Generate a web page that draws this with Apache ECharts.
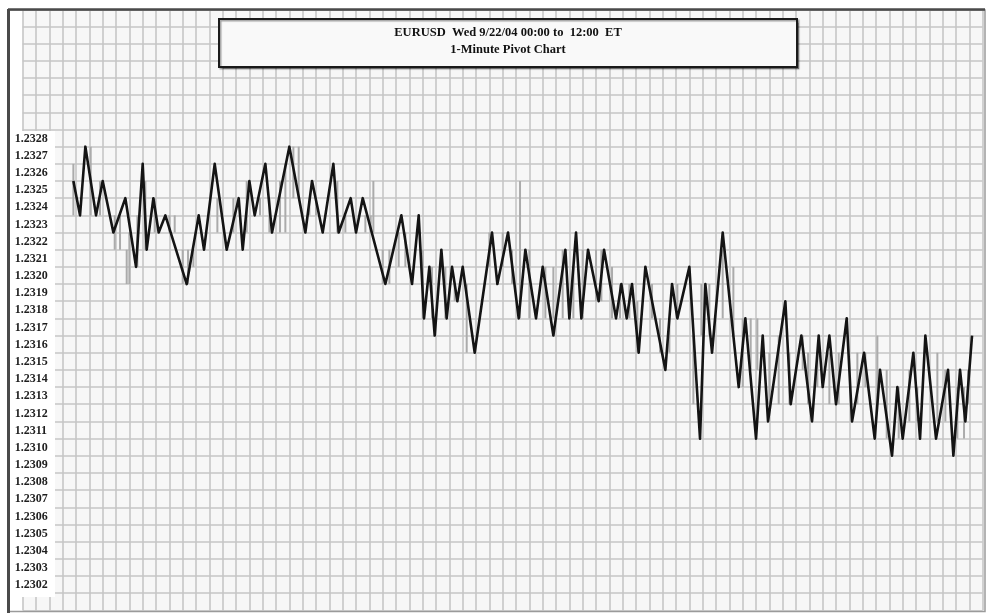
<!DOCTYPE html>
<html>
<head>
<meta charset="utf-8">
<script src="https://cdn.jsdelivr.net/npm/echarts@6/dist/echarts.min.js"></script>
<style>
html,body{margin:0;padding:0;background:#ffffff;}
#chart{width:993px;height:615px;}
</style>
</head>
<body>
<div id="chart"></div>
<script>
// ---- DATA ----
const titleLines = ['EURUSD  Wed 9/22/04 00:00 to  12:00  ET', '1-Minute Pivot Chart'];
const yLabels = ['1.2328','1.2327','1.2326','1.2325','1.2324','1.2323','1.2322','1.2321','1.2320','1.2319','1.2318','1.2317','1.2316','1.2315','1.2314','1.2313','1.2312','1.2311','1.2310','1.2309','1.2308','1.2307','1.2306','1.2305','1.2304','1.2303','1.2302'];

// pivot zigzag: minute of session, price
const pivotMinutes = [38,43,47,55,60,68,77,85,90,93,98,102,107,123,132,136,144,153,162,165,170,174,182,187,200,212,217,225,233,237,246,250,255,272,284,292,297,301,305,309,314,318,322,326,330,339,352,356,364,372,377,385,390,398,407,410,415,419,424,432,436,445,449,453,457,462,467,482,487,491,500,508,512,517,525,537,542,550,555,559,572,576,584,592,597,600,605,610,618,622,631,639,643,652,656,660,668,673,677,685,694,698,703,707,712];
const pivotPrices = [1.2326,1.2324,1.2328,1.2324,1.2326,1.2323,1.2325,1.2321,1.2327,1.2322,1.2325,1.2323,1.2324,1.2320,1.2324,1.2322,1.2327,1.2322,1.2325,1.2322,1.2326,1.2324,1.2327,1.2323,1.2328,1.2323,1.2326,1.2323,1.2327,1.2323,1.2325,1.2323,1.2325,1.2320,1.2324,1.2320,1.2324,1.2318,1.2321,1.2317,1.2322,1.2318,1.2321,1.2319,1.2321,1.2316,1.2323,1.2320,1.2323,1.2318,1.2322,1.2318,1.2321,1.2317,1.2322,1.2318,1.2323,1.2318,1.2322,1.2319,1.2322,1.2318,1.2320,1.2318,1.2320,1.2316,1.2321,1.2315,1.2320,1.2318,1.2321,1.2311,1.2320,1.2316,1.2323,1.2314,1.2318,1.2311,1.2317,1.2312,1.2319,1.2313,1.2317,1.2312,1.2317,1.2314,1.2317,1.2313,1.2318,1.2312,1.2316,1.2311,1.2315,1.2310,1.2314,1.2311,1.2316,1.2311,1.2317,1.2311,1.2315,1.2310,1.2315,1.2312,1.2317];

// visible 1-minute bars (grey): minute, low, high
const barMinutes = [38,51,58,69,73,78,80,86,92,99,110,114,120,124,128,146,158,168,178,185,193,197,203,207,215,220,236,242,257,261,263,270,275,282,287,300,307,317,324,333,350,360,367,373,380,392,398,405,413,420,430,434,442,448,455,461,472,478,485,491,503,509,515,525,533,540,546,551,560,567,575,585,589,596,605,612,626,632,641,648,657,665,671,686,692,701,706,709];
const barLows = [1.2324,1.2324,1.2324,1.2322,1.2322,1.2320,1.2320,1.2321,1.2322,1.2323,1.2323,1.2323,1.2320,1.2320,1.2321,1.2323,1.2323,1.2323,1.2324,1.2323,1.2323,1.2323,1.2325,1.2325,1.2324,1.2324,1.2323,1.2323,1.2323,1.2323,1.2323,1.2320,1.2320,1.2321,1.2321,1.2318,1.2318,1.2318,1.2319,1.2316,1.2321,1.2321,1.2320,1.2318,1.2318,1.2318,1.2318,1.2318,1.2318,1.2318,1.2319,1.2319,1.2318,1.2318,1.2318,1.2316,1.2318,1.2316,1.2316,1.2318,1.2313,1.2317,1.2317,1.2318,1.2317,1.2314,1.2315,1.2315,1.2313,1.2313,1.2313,1.2315,1.2313,1.2314,1.2313,1.2313,1.2313,1.2314,1.2313,1.2311,1.2311,1.2312,1.2312,1.2312,1.2312,1.2311,1.2311,1.2313];
const barHighs = [1.2327,1.2328,1.2326,1.2324,1.2324,1.2322,1.2323,1.2324,1.2326,1.2325,1.2324,1.2324,1.2322,1.2322,1.2322,1.2325,1.2325,1.2326,1.2325,1.2325,1.2326,1.2327,1.2328,1.2328,1.2325,1.2325,1.2326,1.2324,1.2324,1.2324,1.2326,1.2322,1.2322,1.2323,1.2323,1.2322,1.2321,1.2321,1.2320,1.2320,1.2323,1.2323,1.2322,1.2326,1.2322,1.2321,1.2321,1.2322,1.2321,1.2322,1.2322,1.2322,1.2321,1.2320,1.2320,1.2319,1.2320,1.2318,1.2318,1.2320,1.2317,1.2320,1.2320,1.2322,1.2321,1.2318,1.2318,1.2318,1.2316,1.2317,1.2316,1.2317,1.2316,1.2316,1.2316,1.2316,1.2316,1.2316,1.2317,1.2315,1.2314,1.2315,1.2314,1.2316,1.2315,1.2314,1.2314,1.2315];

// ---- CHART ----
const chart = echarts.init(document.getElementById('chart'), null, {renderer: 'canvas'});
const pivotData = pivotMinutes.map((m, i) => [m, pivotPrices[i]]);
const barData = barMinutes.map((m, i) => [m, barLows[i], barHighs[i]]);

const gridTop = 9.3, gridH = 601;
const serif = 'Liberation Serif';

const option = {
  animation: false,
  backgroundColor: '#ffffff',
  grid: {left: 22.7, right: 10.3, top: gridTop, height: gridH, show: true, backgroundColor: '#f7f7f7', borderWidth: 0},
  xAxis: {
    type: 'value', min: 0, max: 720, interval: 10,
    axisLine: {show: false}, axisTick: {show: false}, axisLabel: {show: false},
    splitLine: {show: true, lineStyle: {color: '#c6c6c6', width: 1.6}},
    z: 0
  },
  yAxis: [{
    type: 'value', min: 1.2301, max: 1.2336, interval: 0.0001,
    axisLine: {show: false}, axisTick: {show: false}, axisLabel: {show: false},
    splitLine: {show: true, lineStyle: {color: '#c6c6c6', width: 1.6}},
    z: 0
  }, {
    type: 'value', min: 1.2301, max: 1.2336, interval: 0.0001, position: 'left',
    axisLine: {show: false}, axisTick: {show: false}, splitLine: {show: false},
    axisLabel: {
      show: true, align: 'left', verticalAlign: 'bottom', margin: 8,
      fontFamily: serif, fontWeight: 'bold', fontSize: 12, color: '#1e1e1e', lineHeight: 16,
      formatter: v => { const s = v.toFixed(4); return yLabels.includes(s) ? s : ''; }
    },
    z: 5
  }],
  graphic: [
    // label panel covering grid
    {type: 'rect', z: 3, shape: {x: 10, y: 131, width: 45, height: 466}, style: {fill: '#ffffff'}},
    // frame
    {type: 'rect', z: 4, shape: {x: 9, y: 10, width: 976, height: 601.5}, style: {fill: null, stroke: '#9a9a9a', lineWidth: 1.5}},
    {type: 'line', z: 4, shape: {x1: 8.5, y1: 9, x2: 8.5, y2: 613}, style: {stroke: '#4a4a4a', lineWidth: 3}},
    {type: 'line', z: 4, shape: {x1: 8, y1: 9.5, x2: 985, y2: 9.5}, style: {stroke: '#4a4a4a', lineWidth: 2.5}},
    // title box
    {type: 'rect', z: 10, shape: {x: 219, y: 19, width: 578, height: 48},
      style: {fill: '#f9f9f9', stroke: '#1a1a1a', lineWidth: 2, shadowColor: 'rgba(0,0,0,0.35)', shadowOffsetX: 1.5, shadowOffsetY: 1.5, shadowBlur: 1}},
    {type: 'text', z: 11, x: 508, y: 33, style: {text: titleLines[0], fontFamily: serif, fontWeight: 'bold', fontSize: 12.5, fill: '#111', textAlign: 'center', textVerticalAlign: 'middle'}},
    {type: 'text', z: 11, x: 508, y: 50, style: {text: titleLines[1], fontFamily: serif, fontWeight: 'bold', fontSize: 12.5, fill: '#111', textAlign: 'center', textVerticalAlign: 'middle'}}
  ],
  series: [{
    type: 'custom',
    z: 2,
    renderItem: (params, api) => {
      const p1 = api.coord([api.value(0), api.value(1)]);
      const p2 = api.coord([api.value(0), api.value(2)]);
      return {type: 'line', shape: {x1: p1[0], y1: p1[1], x2: p2[0], y2: p2[1]}, style: {stroke: '#ababab', lineWidth: 2}};
    },
    encode: {x: 0, y: [1, 2]},
    data: barData
  }, {
    type: 'line',
    z: 3,
    data: pivotData,
    symbol: 'none',
    lineStyle: {color: '#141414', width: 2.6, join: 'round'}
  }]
};
chart.setOption(option);
</script>
</body>
</html>
